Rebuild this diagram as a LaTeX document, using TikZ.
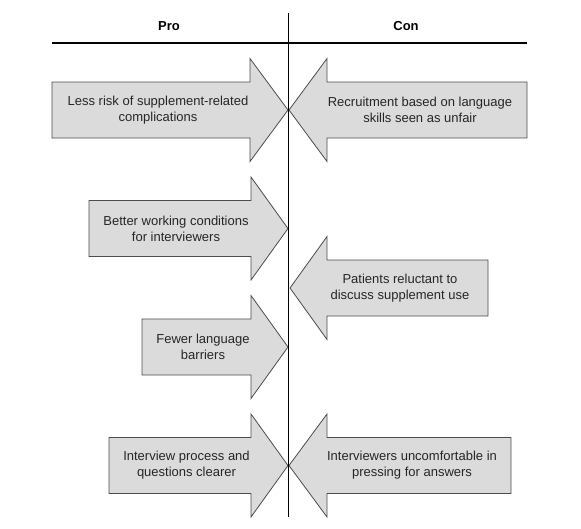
\documentclass[tikz,border=0pt]{standalone}
\usepackage{fontspec}
\setmainfont{Liberation Sans}

\begin{document}
\begin{tikzpicture}[
    x=1pt, y=-1pt,
    arrowbox/.style={
        draw=black!70,
        fill=black!14,
        line width=0.8pt,
        line join=miter
    },
    txt/.style={
        align=center,
        text=black!85,
        inner sep=0pt,
        font=\fontsize{13}{16}\selectfont
    },
    head/.style={
        font=\fontsize{13}{16}\selectfont\bfseries
    }
]

\useasboundingbox (0,0) rectangle (581,528);

% Column titles
\node[head] (pro) at (169,26) {Pro};
\node[head] (con) at (406,26) {Con};

\draw[line width=2.2pt] (52,43) -- (527,43);

% Pro side
\draw[arrowbox] (52,82) -- (250,82) -- (250,58.5) -- (288,110) -- (250,161.5) -- (250,138) -- (52,138) -- cycle;
\node[txt] (pro1) at (158,110) {Less risk of supplement-related\\complications};

\draw[arrowbox] (89,200.5) -- (251,200.5) -- (251,177) -- (288,228.5) -- (251,280) -- (251,256.5) -- (89,256.5) -- cycle;
\node[txt] (pro2) at (176,228.5) {Better working conditions\\for interviewers};

\draw[arrowbox] (142,319) -- (251,319) -- (251,295.5) -- (288,347) -- (251,398.5) -- (251,375) -- (142,375) -- cycle;
\node[txt] (pro3) at (203,347) {Fewer language\\barriers};

\draw[arrowbox] (109,437.5) -- (251,437.5) -- (251,414) -- (288,465.5) -- (251,517) -- (251,493.5) -- (109,493.5) -- cycle;
\node[txt] (pro4) at (186.5,465.5) {Interview process and\\questions clearer};

% Con side
\draw[arrowbox] (527,82) -- (327,82) -- (327,58.5) -- (289,110) -- (327,161.5) -- (327,138) -- (527,138) -- cycle;
\node[txt] (con1) at (420,110) {Recruitment based on language\\skills seen as unfair};

\draw[arrowbox] (488,260) -- (327,260) -- (327,236.5) -- (290,288) -- (327,339.5) -- (327,316) -- (488,316) -- cycle;
\node[txt] (con2) at (400,288) {Patients reluctant to\\discuss supplement use};

\draw[arrowbox] (511,437.5) -- (327,437.5) -- (327,414) -- (289,465.5) -- (327,517) -- (327,493.5) -- (511,493.5) -- cycle;
\node[txt] (con3) at (412,465.5) {Interviewers uncomfortable in\\pressing for answers};

% Divider
\draw[line width=1.9pt] (288.5,13) -- (288.5,517);

\end{tikzpicture}
\end{document}
